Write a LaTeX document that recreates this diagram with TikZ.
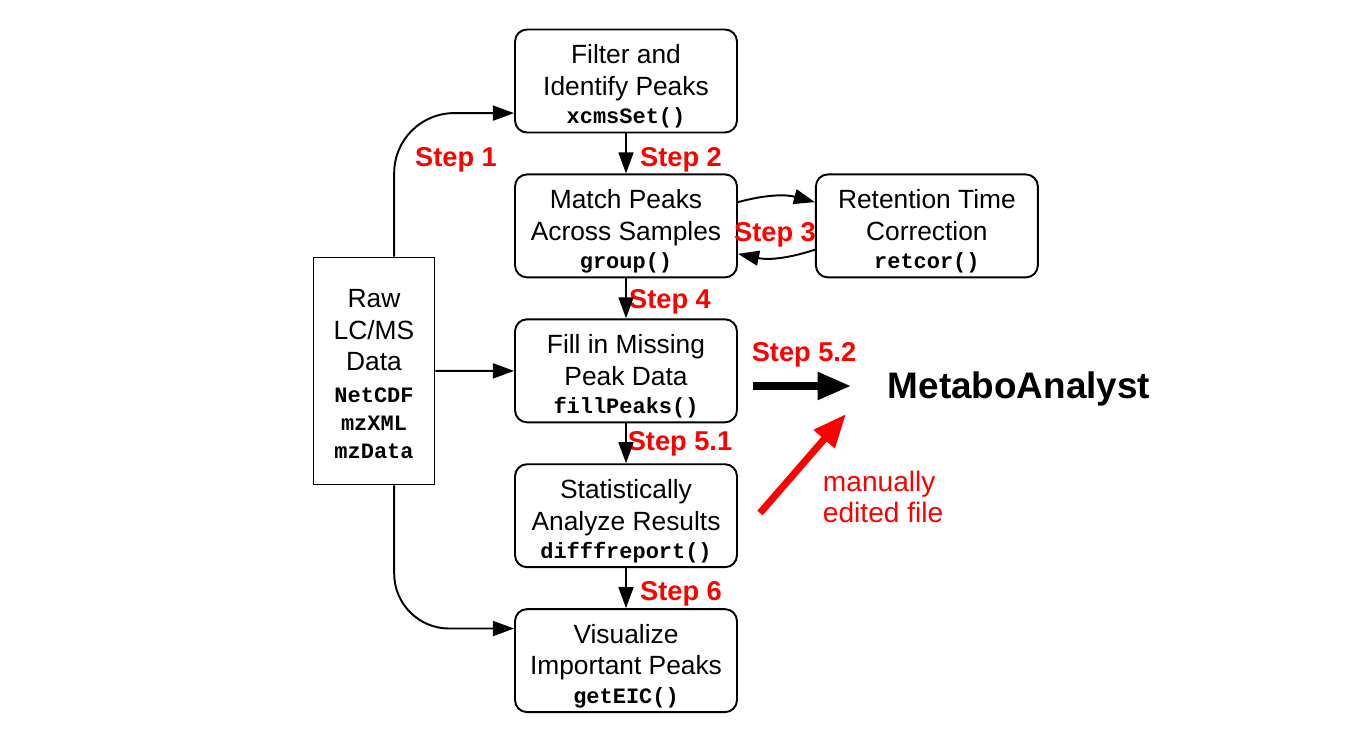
\documentclass[tikz,border=0pt]{standalone}
\usepackage{fontspec}
\setmainfont{Liberation Sans}
\setmonofont{Liberation Mono}
\usetikzlibrary{arrows.meta,positioning}

\tikzset{
  stage/.style={draw, rounded corners=0.24cm, minimum width=4.44cm, minimum height=2.06cm,
    align=center, inner sep=0.5pt, font=\fontsize{15}{18}\selectfont},
  stepnum/.style={text=red, font=\fontsize{15.5}{18}\selectfont\bfseries},
}
\newcommand{\fcall}[1]{{\fontsize{12.5}{15}\selectfont\ttfamily\bfseries #1}}
\newcommand{\lift}{\rule{0pt}{17pt}}

\begin{document}
\begin{tikzpicture}[x=0.02cm,y=-0.02cm,>={Triangle[length=12pt,width=8.5pt]},line width=1.1pt,
  node distance=0.8cm and 1.54cm]
\useasboundingbox (0,0) rectangle (1351,743);
\node (filter) at (626,81) [stage] {\lift Filter and\\Identify Peaks\\[-2pt]\fcall{xcmsSet()}};
\node (match) [stage, below=of filter] {\lift Match Peaks\\Across Samples\\[-2pt]\fcall{group()}};
\node (retcor) [stage, right=of match] {\lift Retention Time\\Correction\\[-2pt]\fcall{retcor()}};
\node (fill) [stage, below=of match] {\lift Fill in Missing\\Peak Data\\[-2pt]\fcall{fillPeaks()}};
\node (stats) [stage, below=of fill] {\lift Statistically\\Analyze Results\\[-2pt]\fcall{difffreport()}};
\node (visual) [stage, below=of stats] {\lift Visualize\\Important Peaks\\[-2pt]\fcall{getEIC()}};
\node (raw) at (374,371) [draw, minimum width=2.42cm, minimum height=4.54cm, align=center,
  font=\fontsize{15}{18}\selectfont] {\rule{0pt}{14pt}Raw\\LC/MS\\Data\\\fcall{NetCDF}\\[-2pt]\fcall{mzXML}\\[-2pt]\fcall{mzData}};
\node (meta) at (1019,389) [font=\fontsize{21}{24}\selectfont\bfseries] {MetaboAnalyst};
\node (note) at (822,497) [anchor=west, align=left, inner sep=0pt, text=red,
  font=\fontsize{16}{18}\selectfont] {manually\\edited file};
\coordinate (tail52) at (753,386);
\coordinate (editfrom) at (760,513);
\coordinate (editto) at (846,414);
% step labels
\node (s1) at (456,160) [stepnum] {Step 1};
\node (s2) at (681,160) [stepnum] {Step 2};
\node (s3) at (775,235) [stepnum] {Step 3};
\node (s4) at (670,302) [stepnum] {Step 4};
\node (s52) at (804,355) [stepnum] {Step 5.2};
\node (s51) at (680,444) [stepnum] {Step 5.1};
\node (s6) at (681,594) [stepnum] {Step 6};
\draw [->, rounded corners=1.2cm] (raw.80) |- (filter.196);
\draw [->] (raw) -- (fill);
\draw [->, rounded corners=1.1cm] (raw.-80) |- (visual.164);
\draw [->] (filter)--(match);
\draw [->] (match)--(fill);
\draw [->] (fill)--(stats);
\draw [->] (stats)--(visual);
\draw [->] (match.12) to [bend left=15] (retcor.168);
\draw [->] (retcor.192) to [bend left=15] (match.346);
\draw [-{Triangle[length=19pt,width=15pt]}, line width=4pt, shorten >=0.6cm] (tail52)--(tail52-|meta.west);
\draw [-{Triangle[length=19pt,width=15pt]}, line width=4pt, red] (editfrom)--(editto);
\end{tikzpicture}
\end{document}
